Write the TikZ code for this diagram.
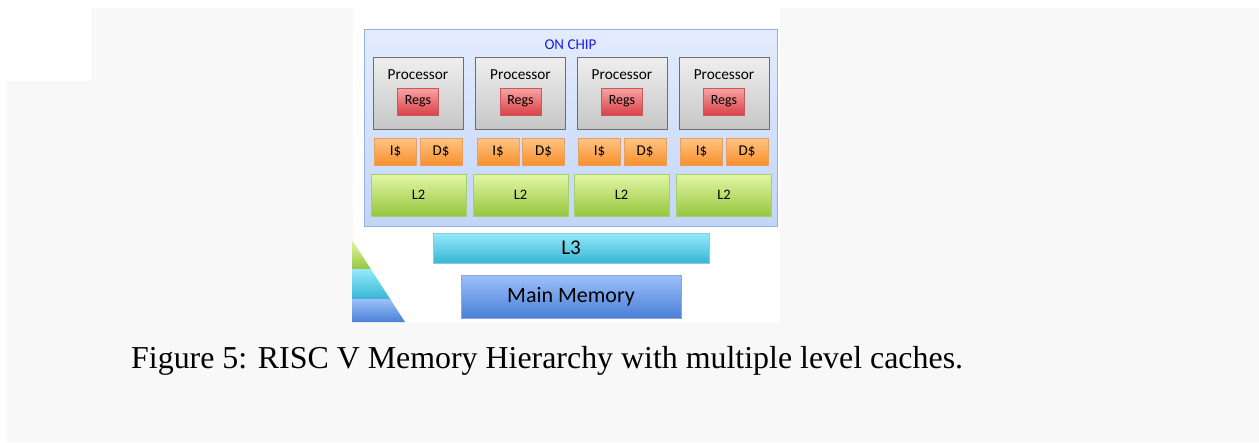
\documentclass[tikz,border=0pt]{standalone}
\usepackage{fontspec}
\setmainfont{Liberation Serif}
\newfontfamily\calib{Carlito}
\usetikzlibrary{shadows}
\definecolor{pagegray}{HTML}{F8F8F8}
\definecolor{chiptop}{HTML}{E3ECFD}
\definecolor{chipbot}{HTML}{C3D5F7}
\definecolor{chipline}{HTML}{94B0DE}
\definecolor{proctop}{HTML}{EFEFEF}
\definecolor{procbot}{HTML}{C6C6C6}
\definecolor{procline}{HTML}{6E6E6E}
\definecolor{regtop}{HTML}{F9A3A3}
\definecolor{regbot}{HTML}{D8424A}
\definecolor{regline}{HTML}{C65A5A}
\definecolor{ictop}{HTML}{FFC486}
\definecolor{icbot}{HTML}{F7902C}
\definecolor{icline}{HTML}{E8A060}
\definecolor{ltop}{HTML}{E2F7A6}
\definecolor{lbot}{HTML}{97C63E}
\definecolor{lline}{HTML}{A8CC70}
\definecolor{cyantop}{HTML}{94EAFA}
\definecolor{cyanbot}{HTML}{38B6D6}
\definecolor{cyanline}{HTML}{8ACBE0}
\definecolor{memtop}{HTML}{9CC0FA}
\definecolor{membot}{HTML}{4A80D6}
\definecolor{memline}{HTML}{8AA8D8}
\definecolor{chipblue}{HTML}{1A1AF5}
\tikzset{
  sh/.style={drop shadow={shadow xshift=0.8pt,shadow yshift=-1.2pt,opacity=.35}},
  chipbox/.style={draw=chipline,line width=1pt,top color=chiptop,bottom color=chipbot,minimum width=413pt,minimum height=197pt,inner sep=0pt,sh},
  procbox/.style={draw=procline,line width=1pt,top color=proctop,bottom color=procbot,minimum width=90pt,minimum height=72pt,inner sep=0pt,sh},
  regbox/.style={draw=regline,line width=0.6pt,top color=regtop,bottom color=regbot,minimum width=41pt,minimum height=27pt,inner sep=0pt,font=\calib\fontsize{14}{15}\selectfont,sh},
  icbox/.style={draw=icline,line width=0.6pt,top color=ictop,bottom color=icbot,minimum width=42pt,minimum height=27pt,inner sep=0pt,font=\calib\fontsize{15}{16}\selectfont,sh},
  ltwobox/.style={draw=lline,line width=0.6pt,top color=ltop,bottom color=lbot,minimum width=95pt,minimum height=42pt,inner sep=0pt,font=\calib\fontsize{14.5}{15}\selectfont,sh},
  lthreebox/.style={draw=cyanline,line width=0.6pt,top color=cyantop,bottom color=cyanbot,minimum width=276pt,minimum height=30pt,inner sep=0pt,font=\calib\fontsize{21}{22}\selectfont,sh},
  membox/.style={draw=memline,line width=0.6pt,top color=memtop,bottom color=membot,minimum width=220pt,minimum height=43pt,inner sep=0pt,font=\calib\fontsize{22}{24}\selectfont,sh},
  proctext/.style={inner sep=0pt,font=\calib\fontsize{15.3}{16}\selectfont},
}
\begin{document}
\begin{tikzpicture}[x=1pt,y=-1pt]
\useasboundingbox (0,0) rectangle (1259,442);
\fill[white] (0,0) rectangle (1259,442);
\fill[pagegray] (91,8) -- (1259,8) -- (1259,442) -- (7,442) -- (7,81) -- (91,81) -- cycle;
\fill[white] (353,8) rectangle (780,322);
% pyramid
\begin{scope}
\clip (352,240) -- (405,322) -- (352,322) -- cycle;
\shade[top color=ltop,bottom color=lbot] (352,240) rectangle (410,269);
\shade[top color=cyantop,bottom color=cyanbot] (352,269) rectangle (410,299);
\shade[top color=memtop,bottom color=membot] (352,299) rectangle (410,322);
\end{scope}
% chip
\node[chipbox] (chip) at (570.5,127.5) {};
\node[font=\calib\fontsize{15}{16}\selectfont,text=chipblue,inner sep=0pt] (chiplabel) at (570.5,45) {ON CHIP};
\foreach \i/\cx/\lx in {1/418/418.5, 2/520.5/520.5, 3/622/621.5, 4/724/724}{
  \node[procbox] (p\i) at (\cx,93) {};
  \node[proctext] (pt\i) at (\cx,75) {Processor};
  \node[regbox] (r\i) at (\cx,101.5) {Regs};
  \node[icbox] (ic\i) at (\cx-22.5,151.5) {I\$};
  \node[icbox] (dc\i) at (\cx+23,151.5) {D\$};
  \node[ltwobox] (l2\i) at (\lx,195) {L2};
}
\node[lthreebox] (l3) at (571,248) {L3};
\node[membox] (mem) at (571,296.5) {Main Memory};
\node[anchor=base west,inner sep=0pt,font=\fontsize{31.9}{34}\selectfont] (cap) at (131,368) {Figure 5: RISC V Memory Hierarchy with multiple level caches.};
\end{tikzpicture}
\end{document}
